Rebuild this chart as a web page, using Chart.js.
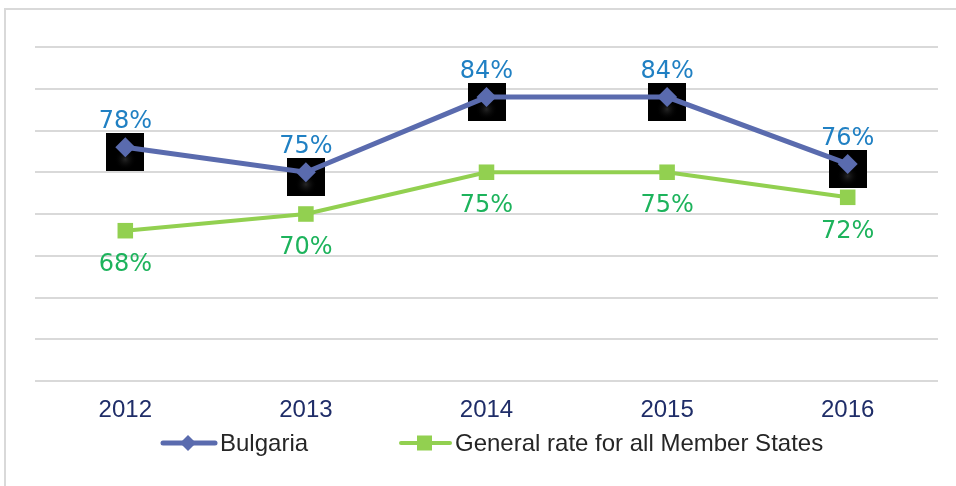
<!DOCTYPE html>
<html>
<head>
<meta charset="utf-8">
<script src="https://cdn.jsdelivr.net/npm/chart.js@4/dist/chart.umd.min.js"></script>
<style>
  html, body { margin: 0; padding: 0; background: #ffffff; }
  #wrap { position: relative; width: 956px; height: 486px; }
  canvas { display: block; }
</style>
</head>
<body>
<div id="wrap"><canvas id="c" width="956" height="486"></canvas></div>
<script>
const categories = ['2012', '2013', '2014', '2015', '2016'];
const bulgaria = [78, 75, 84, 84, 76];
const memberStates = [68, 70, 75, 75, 72];
const seriesNames = ['Bulgaria', 'General rate for all Member States'];
const yMin = 50, yMax = 90, yStep = 5;

const BLUE = '#5A6BAE';
const GREEN = '#92D050';
const BLUE_LABEL = '#2080C3';
const GREEN_LABEL = '#1DB35C';

// frame around the chart
const framePlugin = {
  id: 'frame',
  beforeDraw(chart) {
    const ctx = chart.ctx;
    ctx.save();
    ctx.strokeStyle = '#D9D9D9';
    ctx.lineWidth = 2;
    ctx.beginPath();
    ctx.moveTo(5, chart.height);
    ctx.lineTo(5, 9);
    ctx.lineTo(chart.width, 9);
    ctx.stroke();
    ctx.restore();
  }
};

// black square artifacts behind Bulgaria markers
const backdropPlugin = {
  id: 'backdrop',
  beforeDatasetsDraw(chart) {
    const meta = chart.getDatasetMeta(0);
    const ctx = chart.ctx;
    ctx.save();
    meta.data.forEach(pt => {
      ctx.fillStyle = '#000000';
      ctx.fillRect(Math.round(pt.x) - 19, Math.round(pt.y) - 14, 38, 38);
      const g = ctx.createRadialGradient(pt.x, pt.y + 12, 0, pt.x, pt.y + 12, 11);
      g.addColorStop(0, 'rgba(110,110,110,0.35)');
      g.addColorStop(1, 'rgba(0,0,0,0)');
      ctx.fillStyle = g;
      ctx.fillRect(pt.x - 14, pt.y + 2, 28, 20);
    });
    ctx.restore();
  }
};

// value labels
const labelPlugin = {
  id: 'valueLabels',
  afterDatasetsDraw(chart) {
    const ctx = chart.ctx;
    ctx.save();
    ctx.font = '24px "DejaVu Sans"';
    ctx.textAlign = 'center';
    ctx.textBaseline = 'middle';
    chart.data.datasets.forEach((ds, di) => {
      const meta = chart.getDatasetMeta(di);
      meta.data.forEach((pt, i) => {
        const txt = ds.data[i] + '%';
        if (di === 0) {
          ctx.fillStyle = BLUE_LABEL;
          ctx.fillText(txt, pt.x, pt.y - 25);
        } else {
          ctx.fillStyle = GREEN_LABEL;
          ctx.fillText(txt, pt.x, pt.y + 34);
        }
      });
    });
    ctx.restore();
  }
};

// custom legend
const legendPlugin = {
  id: 'customLegend',
  afterDraw(chart) {
    const ctx = chart.ctx;
    const y = 443;
    ctx.save();
    ctx.lineCap = 'round';
    // Bulgaria
    ctx.strokeStyle = BLUE;
    ctx.lineWidth = 5;
    ctx.beginPath(); ctx.moveTo(163, y); ctx.lineTo(215, y); ctx.stroke();
    ctx.fillStyle = BLUE;
    ctx.beginPath();
    ctx.moveTo(188, y - 8); ctx.lineTo(196, y); ctx.lineTo(188, y + 8); ctx.lineTo(180, y);
    ctx.closePath(); ctx.fill();
    // Member states
    ctx.strokeStyle = GREEN;
    ctx.lineWidth = 4;
    ctx.beginPath(); ctx.moveTo(401, y); ctx.lineTo(450, y); ctx.stroke();
    ctx.fillStyle = GREEN;
    ctx.fillRect(417, y - 7.5, 15, 15);
    // texts
    ctx.fillStyle = '#262626';
    ctx.font = '24px "Liberation Sans"';
    ctx.textAlign = 'left';
    ctx.textBaseline = 'alphabetic';
    ctx.fillText(seriesNames[0], 220, 451);
    ctx.fillText(seriesNames[1], 455, 451);
    ctx.restore();
  }
};

new Chart(document.getElementById('c'), {
  type: 'line',
  data: {
    labels: categories,
    datasets: [
      {
        label: seriesNames[0],
        data: bulgaria,
        borderColor: BLUE,
        backgroundColor: BLUE,
        borderWidth: 5,
        pointStyle: 'rectRot',
        pointRadius: 10,
        pointHoverRadius: 10,
        pointBorderWidth: 0,
        pointBackgroundColor: BLUE,
        tension: 0
      },
      {
        label: seriesNames[1],
        data: memberStates,
        borderColor: GREEN,
        backgroundColor: GREEN,
        borderWidth: 4,
        pointStyle: 'rect',
        pointRadius: 11,
        pointHoverRadius: 11,
        pointBorderWidth: 0,
        pointBackgroundColor: GREEN,
        tension: 0
      }
    ]
  },
  options: {
    responsive: false,
    animation: false,
    devicePixelRatio: 1,
    layout: { padding: { left: 35, right: 18, top: 47, bottom: 60 } },
    plugins: {
      legend: { display: false },
      tooltip: { enabled: false }
    },
    scales: {
      x: {
        offset: true,
        grid: { display: false, drawTicks: false },
        border: { display: false },
        ticks: {
          color: '#1F2D68',
          font: { family: '"Liberation Sans"', size: 24 },
          padding: 15
        },
        afterFit(scale) { scale.height = 45; }
      },
      y: {
        min: yMin,
        max: yMax,
        grid: { color: '#D9D9D9', lineWidth: 2, drawTicks: false },
        border: { display: false },
        ticks: { display: false, stepSize: yStep },
        afterFit(scale) { scale.width = 0; }
      }
    }
  },
  plugins: [framePlugin, backdropPlugin, labelPlugin, legendPlugin]
});
</script>
</body>
</html>
